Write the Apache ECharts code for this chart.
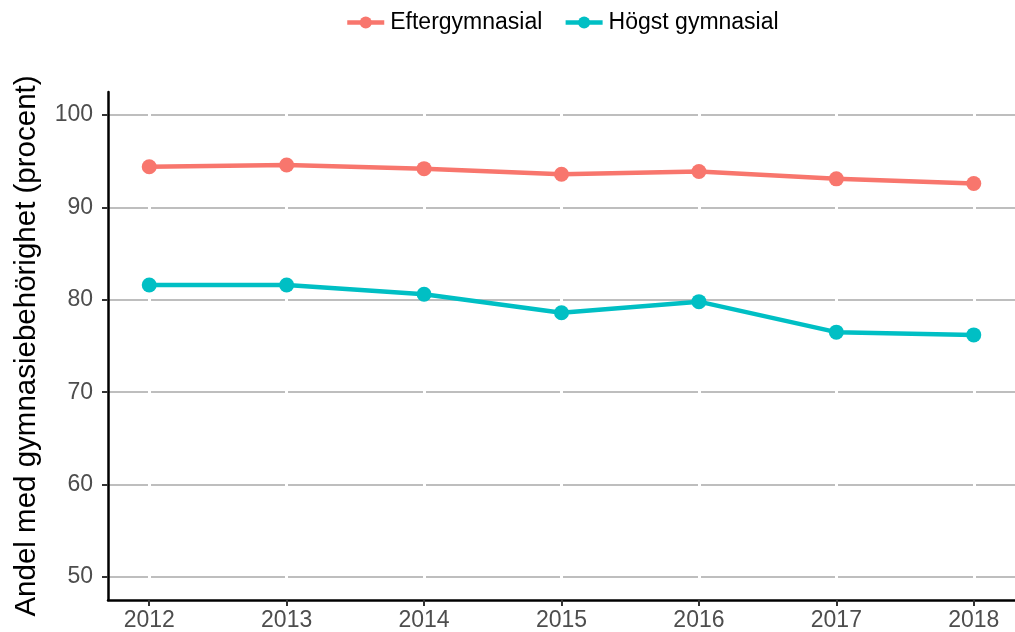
<!DOCTYPE html>
<html>
<head>
<meta charset="utf-8">
<script src="https://cdn.jsdelivr.net/npm/echarts@6/dist/echarts.min.js"></script>
<style>
html,body{margin:0;padding:0;background:#fff;}
#chart{width:1015px;height:632px;}
</style>
</head>
<body>
<div id="chart"></div>
<script>
const years = [2012, 2013, 2014, 2015, 2016, 2017, 2018];
const eftergymnasial = [94.4, 94.6, 94.2, 93.6, 93.9, 93.1, 92.6];
const hogstGymnasial = [81.6, 81.6, 80.6, 78.6, 79.8, 76.5, 76.2];
const yTicks = [50, 60, 70, 80, 90, 100];
const seriesNames = ['Eftergymnasial', 'Högst gymnasial'];
const yTitle = 'Andel med gymnasiebehörighet (procent)';

const font = 'Liberation Sans, Arial, sans-serif';
const chart = echarts.init(document.getElementById('chart'), null, {renderer: 'canvas'});

function pairs(vals) { return years.map((y, i) => [y, vals[i]]); }

chart.setOption({
  animation: false,
  backgroundColor: '#ffffff',
  textStyle: {fontFamily: font},
  legend: {
    top: 6,
    left: 340,
    itemWidth: 37,
    itemHeight: 15,
    itemGap: 21,
    lineStyle: {width: 4.5},
    textStyle: {fontSize: 23, color: '#000', fontFamily: font, padding: [0, 0, 0, 1]},
    data: seriesNames
  },
  grid: {left: 108, right: -9, top: 92, bottom: 31, containLabel: false},
  xAxis: {
    type: 'value',
    min: 2011.7,
    max: 2018.3,
    z: 1,
    axisLine: {show: true, onZero: false, lineStyle: {color: '#000', width: 2.5}},
    axisTick: {show: true, length: 6, customValues: years, lineStyle: {color: '#333', width: 2}},
    axisLabel: {customValues: years, color: '#4d4d4d', fontSize: 23, margin: 9, fontFamily: font,
      formatter: v => String(v)},
    splitLine: {show: true, lineStyle: {color: '#ffffff', width: 3}}
  },
  yAxis: {
    type: 'value',
    min: 47.5,
    max: 102.5,
    z: 0,
    name: yTitle,
    nameLocation: 'middle',
    nameRotate: 90,
    nameGap: 66,
    nameTextStyle: {fontSize: 29.5, color: '#000', fontFamily: font},
    axisLine: {show: true, onZero: false, lineStyle: {color: '#000', width: 2.5}},
    axisTick: {show: true, length: 6, customValues: yTicks, lineStyle: {color: '#333', width: 2}},
    axisLabel: {customValues: yTicks, color: '#4d4d4d', fontSize: 23, margin: 15, fontFamily: font},
    splitLine: {show: true, lineStyle: {color: '#bebebe', width: 2}}
  },
  series: [
    {
      name: seriesNames[0],
      type: 'line',
      data: pairs(eftergymnasial),
      color: '#F8766D',
      symbol: 'circle',
      symbolSize: 15,
      lineStyle: {width: 4.5},
      z: 3
    },
    {
      name: seriesNames[1],
      type: 'line',
      data: pairs(hogstGymnasial),
      color: '#00BFC4',
      symbol: 'circle',
      symbolSize: 15,
      lineStyle: {width: 4.5},
      z: 3
    }
  ]
});
</script>
</body>
</html>
